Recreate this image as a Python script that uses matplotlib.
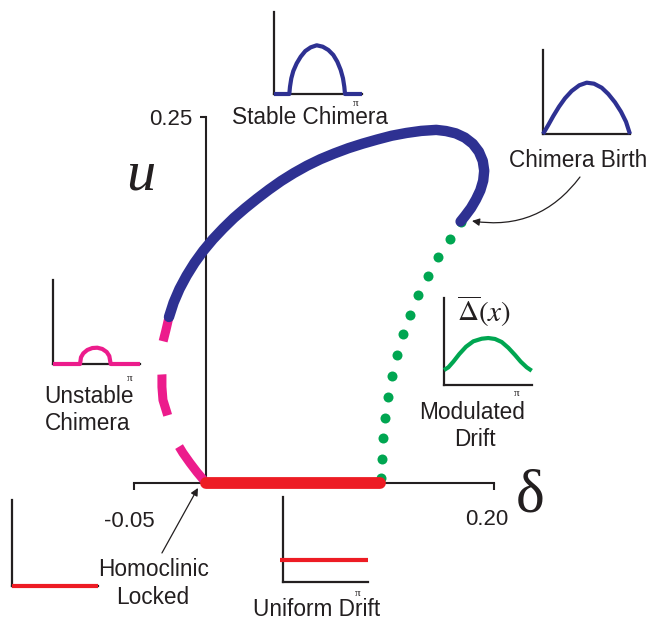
import numpy as np
import matplotlib; matplotlib.use("Agg")
import matplotlib.pyplot as plt

plt.rcParams["font.family"] = ["Liberation Sans", "DejaVu Sans"]
plt.rcParams["mathtext.fontset"] = "stix"
plt.rcParams["lines.scale_dashes"] = False

W, H = 655, 621
INK     = "#231F20"
C_BLUE  = "#2E3192"
C_PINK  = "#EC1C8C"
C_RED   = "#ED1C24"
C_GREEN = "#00A651"

# ── Branches in the (delta, u) plane ───────────────────────────────────────────
stable_delta = [-0.0257, -0.0225, -0.0184, -0.0135, -0.0080, -0.0019, 0.0048, 0.0119,
                0.0194, 0.0273, 0.0354, 0.0437, 0.0522, 0.0610, 0.0701, 0.0795,
                0.0891, 0.0989, 0.1088, 0.1188, 0.1289, 0.1392, 0.1494, 0.1599,
                0.1667, 0.1735, 0.1798, 0.1853, 0.1895, 0.1922, 0.1932, 0.1925,
                0.1905, 0.1875, 0.1840, 0.1799, 0.1768]
stable_u     = [0.1134, 0.1232, 0.1326, 0.1416, 0.1503, 0.1586, 0.1665, 0.1739,
                0.1811, 0.1878, 0.1942, 0.2004, 0.2063, 0.2117, 0.2167, 0.2212,
                0.2251, 0.2287, 0.2318, 0.2346, 0.2372, 0.2391, 0.2405, 0.2412,
                0.2404, 0.2388, 0.2359, 0.2317, 0.2263, 0.2200, 0.2133, 0.2065,
                0.1999, 0.1937, 0.1878, 0.1824, 0.1786]

unstable_delta = [-0.0257, -0.0278, -0.0299, -0.0313, -0.0306, -0.0306, -0.0299,
                  -0.0271, -0.0236, -0.0194, -0.0160, -0.0111, -0.0063, -0.0028, 0.0]
unstable_u     = [0.1134, 0.1045, 0.0963, 0.0854, 0.0738, 0.0656, 0.0567,
                  0.0478, 0.0362, 0.0260, 0.0205, 0.0137, 0.0075, 0.0034, 0.0]

modulated_delta = [0.1768, 0.1694, 0.1611, 0.1542, 0.1472, 0.1417, 0.1368,
                   0.1326, 0.1292, 0.1264, 0.1243, 0.1229, 0.1222, 0.1215]
modulated_u     = [0.1786, 0.1667, 0.1544, 0.1414, 0.1284, 0.1148, 0.1018,
                   0.0874, 0.0731, 0.0587, 0.0444, 0.0307, 0.0164, 0.0034]

uniform_delta = [0.0, 0.121]
uniform_u     = [0.0, 0.0]

delta_ticks = [-0.05, 0.20]
u_ticks     = [0.25]

# ── Profiles over x in [0, pi] for the small panels ───────────────────────────
stable_x = [0.0, 0.546, 0.571, 0.618, 0.689, 0.810, 0.953, 1.117, 1.310, 1.524,
            1.739, 1.939, 2.117, 2.260, 2.381, 2.463, 2.510, 2.535, 3.14]
stable_p = [0.0, 0.0, 0.089, 0.191, 0.280, 0.374, 0.455, 0.524, 0.569, 0.594,
            0.577, 0.537, 0.476, 0.394, 0.293, 0.191, 0.089, 0.0, 0.0]

birth_x = [0.0, 0.191, 0.372, 0.578, 0.794, 1.036, 1.311, 1.578, 1.842, 2.120,
           2.358, 2.600, 2.817, 2.997, 3.14]
birth_p = [0.0, 0.107, 0.214, 0.325, 0.425, 0.512, 0.580, 0.611, 0.599, 0.551,
           0.476, 0.377, 0.265, 0.146, 0.0]

unstable_x = [0.0, 0.975, 1.011, 1.094, 1.239, 1.419, 1.600, 1.780, 1.939, 2.033,
              2.084, 3.14]
unstable_p = [0.0, 0.0, 0.080, 0.127, 0.167, 0.190, 0.194, 0.179, 0.143, 0.095,
              0.0, 0.0]

modulated_x = [0.0, 0.155, 0.333, 0.547, 0.786, 1.047, 1.347, 1.582, 1.821, 2.060,
               2.296, 2.535, 2.739, 2.953, 3.131]
modulated_p = [0.172, 0.203, 0.268, 0.356, 0.440, 0.502, 0.532, 0.540, 0.529, 0.494,
               0.428, 0.345, 0.268, 0.203, 0.164]

locked_x = [0.0, 3.14]
locked_p = [0.0, 0.0]

drift_x = [-0.1, 3.14]
drift_p = [0.26, 0.26]


def fpos(x, y):
    """pixel position -> figure fraction"""
    return x / W, 1 - y / H


fig = plt.figure(figsize=(W / 100, H / 100), dpi=100, facecolor="white")

# ── Main bifurcation diagram ──────────────────────────────────────────────────
ax = fig.add_axes([0, 0, 1, 1])
ax.patch.set_visible(False)
ax.set_xlim(-206 / 1440, (W - 206) / 1440)
ax.set_ylim((483 - H) / 1464, 483 / 1464)
for s in ("top", "right"):
    ax.spines[s].set_visible(False)
ax.spines["bottom"].set_position(("data", 0))
ax.spines["left"].set_position(("data", 0))
ax.spines["bottom"].set_bounds(delta_ticks[0], delta_ticks[-1])
ax.spines["left"].set_bounds(0, u_ticks[0])
for s in ("bottom", "left"):
    ax.spines[s].set_linewidth(1.5)
    ax.spines[s].set_color(INK)
ax.set_xticks(delta_ticks)
ax.set_yticks(u_ticks)
ax.set_xticklabels([])
ax.set_yticklabels([])
ax.tick_params(axis="x", direction="out", length=5, width=1.5, color=INK)
ax.tick_params(axis="y", direction="out", length=4, width=1.5, color=INK)

ax.plot(unstable_delta, unstable_u, color=C_PINK, lw=6.5,
        linestyle=(12, (30, 24)), dash_capstyle="butt", zorder=3)
ax.plot(modulated_delta, modulated_u, "o", color=C_GREEN, ms=7.2, mec="none", zorder=3)
ax.plot(uniform_delta, uniform_u, color=C_RED, lw=8.5, solid_capstyle="round", zorder=4)
ax.plot(stable_delta, stable_u, color=C_BLUE, lw=7.5, solid_capstyle="round",
        solid_joinstyle="round", zorder=5)

# arrows
ax.annotate("", xy=(0.1847, 0.1790), xytext=(0.2597, 0.2090),
            arrowprops=dict(arrowstyle="-|>", connectionstyle="arc3,rad=-0.3",
                            lw=0.9, color=INK, shrinkA=0, shrinkB=0,
                            mutation_scale=11))
ax.annotate("", xy=(-0.0056, -0.0034), xytext=(-0.0306, -0.0478),
            arrowprops=dict(arrowstyle="-|>", lw=0.9, color=INK, shrinkA=0,
                            shrinkB=0, mutation_scale=11))

# tick labels and axis symbols
fig.text(*fpos(129, 527), f"{delta_ticks[0]:.2f}", ha="center", va="baseline",
         fontsize=16, color=INK)
fig.text(*fpos(487, 525), f"{delta_ticks[1]:.2f}", ha="center", va="baseline",
         fontsize=16, color=INK)
fig.text(*fpos(192, 125), f"{u_ticks[0]:.2f}", ha="right", va="baseline",
         fontsize=16, color=INK)
fig.text(*fpos(141, 190), "u", ha="center", va="baseline", fontsize=42,
         family="Liberation Serif", style="italic", color=INK)
fig.text(*fpos(530, 511), "δ", ha="center", va="baseline", fontsize=44,
         family="Liberation Serif", color=INK)

# branch labels
labels = [("Stable Chimera", 310, 124), ("Chimera Birth", 578, 167),
          ("Unstable", 89, 403), ("Chimera", 88, 430),
          ("Modulated", 472, 419), ("Drift", 475, 446),
          ("Homoclinic", 154, 576), ("Locked", 153, 604),
          ("Uniform Drift", 317, 616)]
for txt, x, y in labels:
    fig.text(*fpos(x, y), txt, ha="center", va="baseline", fontsize=16.3, color=INK)


# ── Small profile panels ──────────────────────────────────────────────────────
def inset(left, top, right, bottom):
    a = fig.add_axes([left / W, 1 - bottom / H, (right - left) / W, (bottom - top) / H])
    a.set_xlim(0, np.pi)
    a.set_ylim(0, 1)
    a.patch.set_visible(False)
    for s in ("top", "right"):
        a.spines[s].set_visible(False)
    for s in ("left", "bottom"):
        a.spines[s].set_linewidth(1.6)
        a.spines[s].set_color(INK)
    a.set_xticks([])
    a.set_yticks([])
    return a


panels = [
    ((274, 12, 362, 94),   stable_x,    stable_p,    C_BLUE,  (0.93, -0.11)),
    ((543, 50, 630, 134),  birth_x,     birth_p,     C_BLUE,  None),
    ((53, 280, 140, 364),  unstable_x,  unstable_p,  C_PINK,  (0.885, -0.17)),
    ((444, 298, 532, 385), modulated_x, modulated_p, C_GREEN, (0.83, -0.10)),
    ((12, 500, 98, 586),   locked_x,    locked_p,    C_RED,   None),
    ((283, 497, 368, 582), drift_x,     drift_p,     C_RED,   (0.88, -0.13)),
]
for box, px_, py_, col, pi_pos in panels:
    a = inset(*box)
    a.plot(px_, py_, color=col, lw=3, clip_on=False, solid_capstyle="butt",
           solid_joinstyle="round", zorder=3)
    if pi_pos:
        a.text(*pi_pos, "π", transform=a.transAxes, ha="center", va="center",
               fontsize=8, family="Liberation Serif", color=INK)
    if col == C_GREEN:
        a.text(0.45, 0.85, r"$\overline{\Delta}(x)$", transform=a.transAxes,
               ha="center", va="center", fontsize=21, color=INK)

plt.savefig("out.png", dpi=100, facecolor="white")
plt.close()
